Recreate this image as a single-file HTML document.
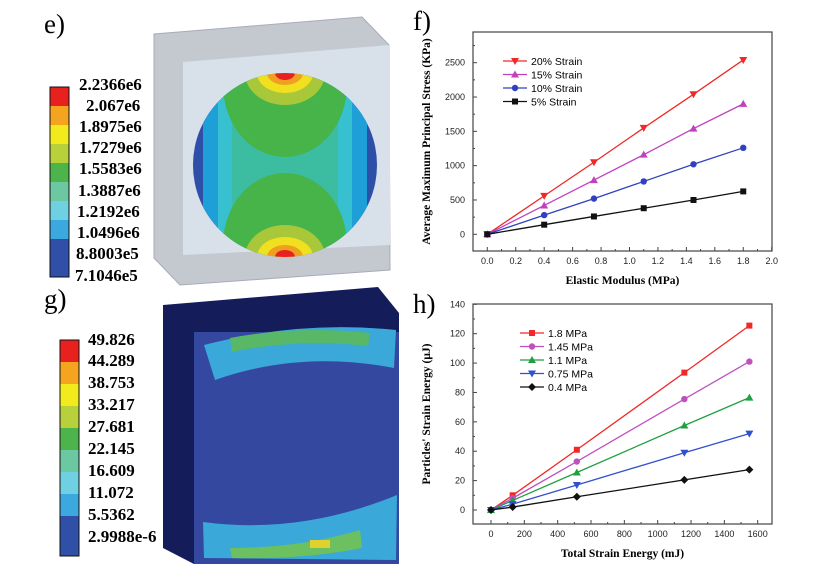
<!DOCTYPE html>
<html><head><meta charset="utf-8"><style>
body{margin:0;background:#fff;width:815px;height:574px;overflow:hidden;font-family:"Liberation Sans",sans-serif}
svg{position:absolute;left:0;top:0}
.pl{font-family:"Liberation Serif",serif;font-size:27px}
.cb{font-family:"Liberation Serif",serif;font-size:17px;font-weight:bold}
.tk{font-size:9px;fill:#222}
.at{font-family:"Liberation Serif",serif;font-weight:bold;font-size:11.5px}
.lg{font-size:10.5px}
</style></head><body>
<svg width="815" height="574">
<defs><clipPath id="cc"><circle cx="285" cy="165" r="92"/></clipPath></defs>
<g>
<text class="pl" x="44" y="33">e)</text>
<polygon points="154,34 362,17 389,45 390,270 180,285 154,258" fill="#c4c9d0" stroke="#aab"/>
<polygon points="183,62 390,45 390,245 183,255" fill="#d8e0ea"/>
<g clip-path="url(#cc)">
<rect x="190" y="70" width="190" height="190" fill="#2e4fa8"/>
<rect x="203" y="70" width="164" height="190" fill="#1f9fd8"/>
<rect x="218" y="70" width="134" height="190" fill="#36c0d0"/>
<rect x="232" y="70" width="106" height="190" fill="#3cbca0"/>
<ellipse cx="285" cy="85" rx="62" ry="72" fill="#46b448"/>
<ellipse cx="285" cy="245" rx="62" ry="72" fill="#46b448"/>
<ellipse cx="285" cy="73" rx="40" ry="32" fill="#a8c83a"/>
<ellipse cx="285" cy="257" rx="40" ry="32" fill="#a8c83a"/>
<ellipse cx="285" cy="73" rx="28" ry="20" fill="#f0e020"/>
<ellipse cx="285" cy="257" rx="28" ry="20" fill="#f0e020"/>
<ellipse cx="285" cy="73" rx="18" ry="12" fill="#f0a020"/>
<ellipse cx="285" cy="257" rx="18" ry="12" fill="#f0a020"/>
<ellipse cx="285" cy="73" rx="10" ry="7" fill="#e82020"/>
<ellipse cx="285" cy="257" rx="10" ry="7" fill="#e82020"/>
</g>
<g>
<rect x="50" y="87" width="19" height="19" fill="#e8201e"/><rect x="50" y="106" width="19" height="19" fill="#f4a41e"/>
<rect x="50" y="125" width="19" height="19" fill="#f2ea1c"/><rect x="50" y="144" width="19" height="19" fill="#b8d03a"/>
<rect x="50" y="163" width="19" height="19" fill="#4cb44a"/><rect x="50" y="182" width="19" height="19" fill="#6cc8a0"/>
<rect x="50" y="201" width="19" height="19" fill="#6ed0e0"/><rect x="50" y="220" width="19" height="19" fill="#3ca8e0"/>
<rect x="50" y="239" width="19" height="38" fill="#3050a8"/>
<rect x="50" y="87" width="19" height="190" fill="none" stroke="#111"/>
</g>
<g class="cb">
<text x="79" y="90">2.2366e6</text><text x="86" y="111">2.067e6</text><text x="79" y="132">1.8975e6</text>
<text x="79" y="153">1.7279e6</text><text x="79" y="174">1.5583e6</text><text x="78" y="196">1.3887e6</text>
<text x="77" y="217">1.2192e6</text><text x="77" y="238">1.0496e6</text><text x="76" y="259">8.8003e5</text>
<text x="75" y="281">7.1046e5</text></g>
</g>
<g>
<text class="pl" x="44" y="308">g)</text>
<polygon points="163,305 378,287 399,313 399,564 194,564 163,548" fill="#151c5a"/>
<rect x="194" y="332" width="205" height="232" fill="#3448a0"/>
<path d="M204,345 Q300,320 396,330 L394,368 Q300,350 215,380 Z" fill="#3aa8d8"/>
<path d="M230,338 Q300,325 370,333 L368,346 Q300,338 232,352 Z" fill="#58b868"/>
<path d="M203,522 Q300,535 397,495 L396,560 L204,558 Z" fill="#3aa8d8"/>
<path d="M230,548 Q300,548 360,530 L362,548 Q300,560 232,558 Z" fill="#6cc060"/>
<rect x="310" y="540" width="20" height="8" fill="#e0d030"/>
<g>
<rect x="60" y="340" width="19" height="22" fill="#e8201e"/><rect x="60" y="362" width="19" height="22" fill="#f4a41e"/>
<rect x="60" y="384" width="19" height="22" fill="#f2ea1c"/><rect x="60" y="406" width="19" height="22" fill="#b8d03a"/>
<rect x="60" y="428" width="19" height="22" fill="#4cb44a"/><rect x="60" y="450" width="19" height="22" fill="#6cc8a0"/>
<rect x="60" y="472" width="19" height="22" fill="#6ed0e0"/><rect x="60" y="494" width="19" height="22" fill="#3ca8e0"/>
<rect x="60" y="516" width="19" height="40" fill="#3050a8"/>
<rect x="60" y="340" width="19" height="216" fill="none" stroke="#111"/>
</g>
<g class="cb">
<text x="88" y="345">49.826</text><text x="88" y="366">44.289</text><text x="88" y="388">38.753</text>
<text x="88" y="410">33.217</text><text x="88" y="432">27.681</text><text x="88" y="454">22.145</text>
<text x="88" y="476">16.609</text><text x="88" y="498">11.072</text><text x="88" y="520">5.5362</text>
<text x="88" y="542">2.9988e-6</text></g>
</g>
<text class="pl" x="413" y="30">f)</text>
<text class="pl" x="413" y="313">h)</text>
<g id="cf"></g>
<g id="ch"></g>
</svg>
<script>
const fX=[0,0.4,0.75,1.1,1.45,1.8];
const fS20=[0,560,1050,1550,2040,2540];
const fS15=[0,420,790,1160,1540,1900];
const fS10=[0,280,520,770,1020,1260];
const fS5=[0,140,260,380,500,625];
const fXT=["0.0","0.2","0.4","0.6","0.8","1.0","1.2","1.4","1.6","1.8","2.0"];
const fYT=["0","500","1000","1500","2000","2500"];
const hX=[0,130,515,1160,1550];
const h18=[0,10,41,93.5,125.5];
const h145=[0,8,33,75.5,101];
const h11=[0,6.5,25.5,57.5,76.5];
const h075=[0,4,17,39,52];
const h04=[0,2,9,20.5,27.5];
const hXT=["0","200","400","600","800","1000","1200","1400","1600"];
const hYT=["0","20","40","60","80","100","120","140"];
const NS="http://www.w3.org/2000/svg";
function mk(p,t,a,txt){const e=document.createElementNS(NS,t);for(const k in a)e.setAttribute(k,a[k]);if(txt!==undefined)e.textContent=txt;p.appendChild(e);return e;}
function marker(g,type,x,y,c){
 let e;
 if(type=="sq")e=mk(g,"rect",{x:x-3,y:y-3,width:6,height:6,fill:c});
 else if(type=="ci")e=mk(g,"circle",{cx:x,cy:y,r:3.2,fill:c});
 else if(type=="tu")e=mk(g,"polygon",{points:`${x},${y-4} ${x-4},${y+3} ${x+4},${y+3}`,fill:c});
 else if(type=="td")e=mk(g,"polygon",{points:`${x},${y+4} ${x-4},${y-3} ${x+4},${y-3}`,fill:c});
 else e=mk(g,"polygon",{points:`${x},${y-4} ${x+4},${y} ${x},${y+4} ${x-4},${y}`,fill:c});
 
 
}
function chart(g,o){
 const sx=v=>o.x0+(v-o.xmin)/(o.xmax-o.xmin)*(o.x1-o.x0);
 const sy=v=>o.y0-(v-o.ymin)/(o.ymax-o.ymin)*(o.y0-o.y1);
 const fr=mk(g,"rect",{x:o.L,y:o.T,width:o.R-o.L,height:o.B-o.T,fill:"none",stroke:"#444","stroke-width":1.2});
 
 
 const xs=(o.xmax-o.xmin)/(o.xt.length-1);
 o.xt.forEach((t,i)=>{const v=o.xmin+i*xs;const x=sx(v);
  mk(g,"line",{x1:x,x2:x,y1:o.B,y2:o.B-4,stroke:"#444"});
  if(i<o.xt.length-1){const xm=sx(v+xs/2);mk(g,"line",{x1:xm,x2:xm,y1:o.B,y2:o.B-2,stroke:"#444"});}
  const tx=mk(g,"text",{x:x,y:o.B+13,"text-anchor":"middle",class:"tk"},t);
  
  });
 const ys=+o.yt[1]-+o.yt[0];
 o.yt.forEach((t,i)=>{const v=+t;const y=sy(v);
  mk(g,"line",{x1:o.L,x2:o.L+4,y1:y,y2:y,stroke:"#444"});
  const ym=sy(v+ys/2);if(ym>o.T)mk(g,"line",{x1:o.L,x2:o.L+2,y1:ym,y2:ym,stroke:"#444"});
  const tx=mk(g,"text",{x:o.L-8,y:y+3,"text-anchor":"end",class:"tk"},t);
  
  });
 o.series.forEach((s,k)=>{
  const pts=o.xs.map((v,i)=>sx(v)+","+sy(s.v[i])).join(" ");
  const pl=mk(g,"polyline",{points:pts,fill:"none",stroke:s.c,"stroke-width":1.3});
  
  
  o.xs.forEach((v,i)=>marker(g,s.m,sx(v),sy(s.v[i]),s.c));
  const ly=o.ly+k*o.ld;
  const lg=mk(g,"g",{});
  
  
  mk(lg,"line",{x1:o.lx,x2:o.lx+24,y1:ly,y2:ly,stroke:s.c,"stroke-width":1.3});
  marker(lg,s.m,o.lx+12,ly,s.c);
  mk(lg,"text",{x:o.lx+28,y:ly+4,class:"lg"},s.n);
 });
 const xt=mk(g,"text",{x:(o.L+o.R)/2,y:o.B+33,"text-anchor":"middle",class:"at"},o.xl);
 
 
 const cy=(o.T+o.B)/2;
 const yt=mk(g,"text",{x:o.L-43,y:cy,"text-anchor":"middle",class:"at",transform:`rotate(-90 ${o.L-43} ${cy})`},o.yl);
 
 
}
chart(document.getElementById("cf"),{L:473,R:772,T:32,B:251,x0:487.3,x1:771.7,xmin:0,xmax:2,y0:234.3,y1:62.7,ymin:0,ymax:2500,
 xt:fXT,yt:fYT,xs:fX,lx:503,ly:61,ld:13.5,xl:"Elastic Modulus (MPa)",yl:"Average Maximum Principal Stress (KPa)",
 series:[{v:fS20,c:"#f02828",m:"td",n:"20% Strain"},{v:fS15,c:"#c040c0",m:"tu",n:"15% Strain"},{v:fS10,c:"#3040c0",m:"ci",n:"10% Strain"},{v:fS5,c:"#111",m:"sq",n:"5% Strain"}]});
chart(document.getElementById("ch"),{L:473,R:772,T:304,B:524,x0:491,x1:757.7,xmin:0,xmax:1600,y0:510,y1:304.3,ymin:0,ymax:140,
 xt:hXT,yt:hYT,xs:hX,lx:520,ly:333,ld:13.5,xl:"Total Strain Energy (mJ)",yl:"Particles' Strain Energy (\u03bcJ)",
 series:[{v:h18,c:"#f02828",m:"sq",n:"1.8 MPa"},{v:h145,c:"#c050c0",m:"ci",n:"1.45 MPa"},{v:h11,c:"#20a040",m:"tu",n:"1.1 MPa"},{v:h075,c:"#3050d0",m:"td",n:"0.75 MPa"},{v:h04,c:"#111",m:"di",n:"0.4 MPa"}]});
</script>
</body></html>
